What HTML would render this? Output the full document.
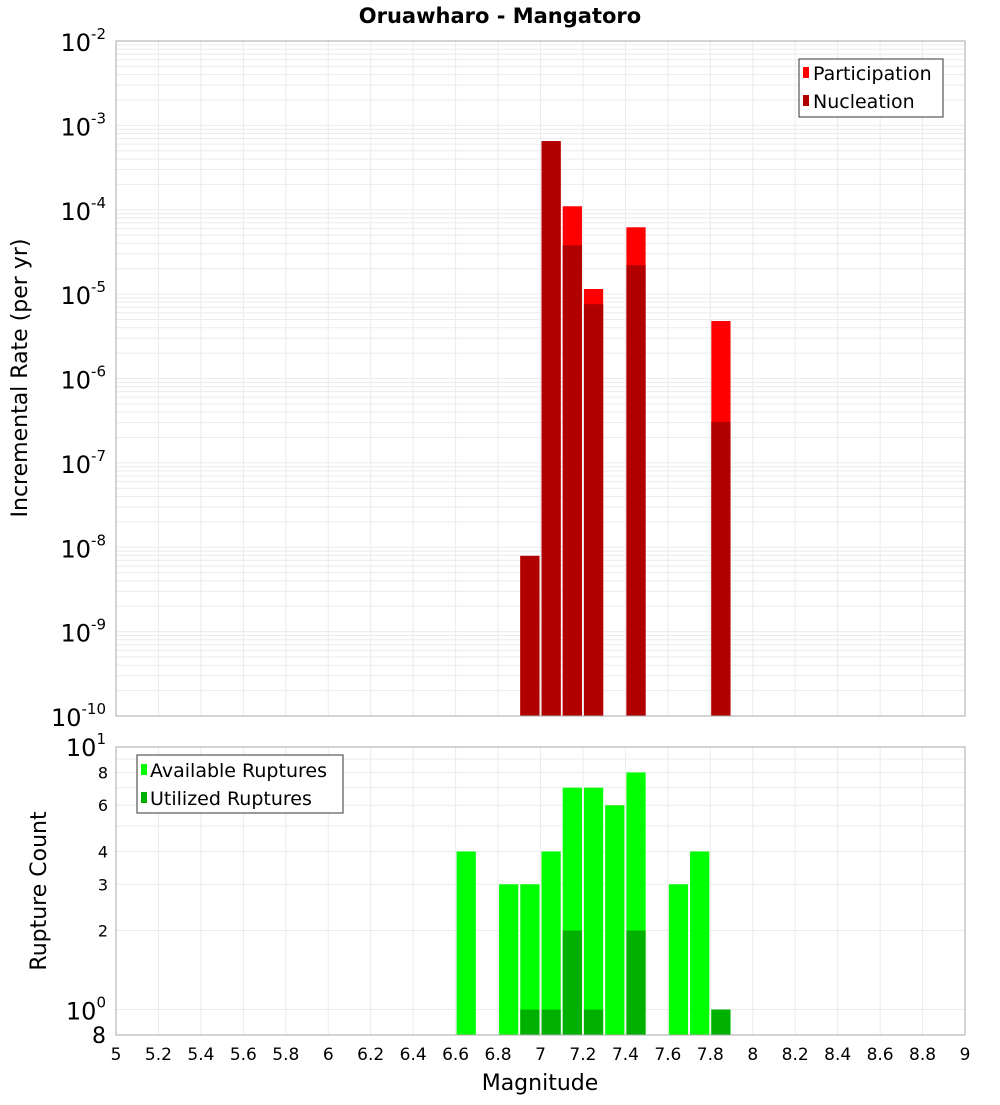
<!DOCTYPE html>
<html><head><meta charset="utf-8"><style>
body{margin:0;background:#fff;font-family:"Liberation Sans","DejaVu Sans",sans-serif}
svg text{font-family:"DejaVu Sans","Liberation Sans",sans-serif}
</style></head><body>
<svg id="c" width="1000" height="1100" xmlns="http://www.w3.org/2000/svg">
<rect width="1000" height="1100" fill="#fff"/>
<text x="500" y="23" text-anchor="middle" font-size="21" font-weight="bold">Oruawharo - Mangatoro</text>
<g id="gtop"></g><g id="gbot"></g>
<text transform="translate(27,378) rotate(-90)" text-anchor="middle" font-size="22">Incremental Rate (per yr)</text>
<text transform="translate(46,891) rotate(-90)" text-anchor="middle" font-size="22">Rupture Count</text>
<text x="540" y="1090" text-anchor="middle" font-size="22">Magnitude</text>
<g id="legends">
<g>
<rect x="799" y="59" width="144" height="58" fill="#fff" stroke="#333"/>
<rect x="803" y="67" width="6" height="11" fill="#ff0000"/>
<text x="813" y="80" font-size="19">Participation</text>
<rect x="803" y="95" width="6" height="11" fill="#b00000"/>
<text x="813" y="108" font-size="19">Nucleation</text>
</g>
<g>
<rect x="137" y="755" width="206" height="58" fill="#fff" stroke="#333"/>
<rect x="141" y="764" width="6" height="11" fill="#00ff00"/>
<text x="150" y="777" font-size="19">Available Ruptures</text>
<rect x="141" y="792" width="6" height="11" fill="#00b000"/>
<text x="150" y="805" font-size="19">Utilized Ruptures</text>
</g>
</g>
</svg>
<script>
const mags=[6.9,7.0,7.1,7.2,7.4,7.8];
const participation=[7.9e-9,6.5e-4,1.1e-4,1.15e-5,6.2e-5,4.8e-6];
const nucleation=[7.9e-9,6.5e-4,3.8e-5,7.6e-6,2.2e-5,3.06e-7];
const countMags=[6.6,6.8,6.9,7.0,7.1,7.2,7.3,7.4,7.6,7.7,7.8];
const available=[4,3,3,4,7,7,6,8,3,4,1];
const utilized=[0,0,1,1,2,1,0,2,0,0,1];
const xTicks=[5,5.2,5.4,5.6,5.8,6,6.2,6.4,6.6,6.8,7,7.2,7.4,7.6,7.8,8,8.2,8.4,8.6,8.8,9];
const topExps=[-2,-3,-4,-5,-6,-7,-8,-9,-10];
const botTicks=[1,2,3,4,6,8];

const NS="http://www.w3.org/2000/svg";
const X0=116,X1=965;
const xs=m=>X0+(m-5)/4*(X1-X0);
const T0=41,T1=716;
const yT=v=>T0+(-2-Math.log10(v))/8*(T1-T0);
const B0=747,B1=1035;
const yB=v=>B1-(Math.log10(v)-Math.log10(0.8))/(1-Math.log10(0.8))*(B1-B0);
function mk(p,tag,a){const e=document.createElementNS(NS,tag);for(const k in a)e.setAttribute(k,a[k]);p.appendChild(e);return e;}
const gTop=document.getElementById('gtop'),gBot=document.getElementById('gbot');
const svgEl=document.getElementById('c');
for(let d=-10;d<-2;d++)for(let k=1;k<10;k++){const y=yT(k*Math.pow(10,d));const l=mk(gTop,'line',{x1:X0,x2:X1,y1:y,y2:y,stroke:'#ebebeb'});

}
[0.8,1,2,3,4,5,6,7,8,9,10].forEach(v=>{const y=yB(v);const l=mk(gBot,'line',{x1:X0,x2:X1,y1:y,y2:y,stroke:'#ebebeb'});

});
xTicks.forEach(t=>{const x=xs(t);[gTop,gBot].forEach((g,i)=>{const l=mk(g,'line',{x1:x,x2:x,y1:i?B0:T0,y2:i?B1:T1,stroke:'#ebebeb'});

});
const tx=mk(gBot,'text',{x:x,y:1060,'text-anchor':'middle','font-size':17});tx.textContent=String(t);

});
const bw=(xs(5.1)-xs(5))-2;
mags.forEach((m,i)=>{const x=xs(m)+1;
const p=mk(gTop,'rect',{x:x,y:yT(participation[i]),width:bw,height:T1-yT(participation[i]),fill:'#ff0000'});


const n=mk(gTop,'rect',{x:x,y:yT(nucleation[i]),width:bw,height:T1-yT(nucleation[i]),fill:'#b00000'});

});
countMags.forEach((m,i)=>{const x=xs(m)+1;
const a=mk(gBot,'rect',{x:x,y:yB(available[i]),width:bw,height:B1-yB(available[i]),fill:'#00ff00'});


if(utilized[i]>0){const u=mk(gBot,'rect',{x:x,y:yB(utilized[i]),width:bw,height:B1-yB(utilized[i]),fill:'#00b000'});

}});
[[T0,T1],[B0,B1]].forEach(([a,b])=>{const r=mk(gBot,'rect',{x:X0,y:a,width:X1-X0,height:b-a,fill:'none',stroke:'#aaa'});

});
topExps.forEach(e=>{const y=yT(Math.pow(10,e));const t=mk(gTop,'text',{x:106,y:y+10,'text-anchor':'end','font-size':24});
t.innerHTML='10<tspan dy="-12" font-size="15">'+e+'</tspan>';

});
botTicks.forEach(v=>{const y=yB(v);let t;
if(v===1){t=mk(gBot,'text',{x:106,y:y+10,'text-anchor':'end','font-size':24});t.innerHTML='10<tspan dy="-12" font-size="15">0</tspan>';}
else{t=mk(gBot,'text',{x:108,y:y+6,'text-anchor':'end','font-size':16});t.textContent=String(v);}

});
let t1=mk(gBot,'text',{x:106,y:756,'text-anchor':'end','font-size':24});t1.innerHTML='10<tspan dy="-12" font-size="15">1</tspan>';


let t8=mk(gBot,'text',{x:106,y:1043,'text-anchor':'end','font-size':22});t8.textContent='8';


svgEl.appendChild(document.getElementById('legends'));
</script>
</body></html>
